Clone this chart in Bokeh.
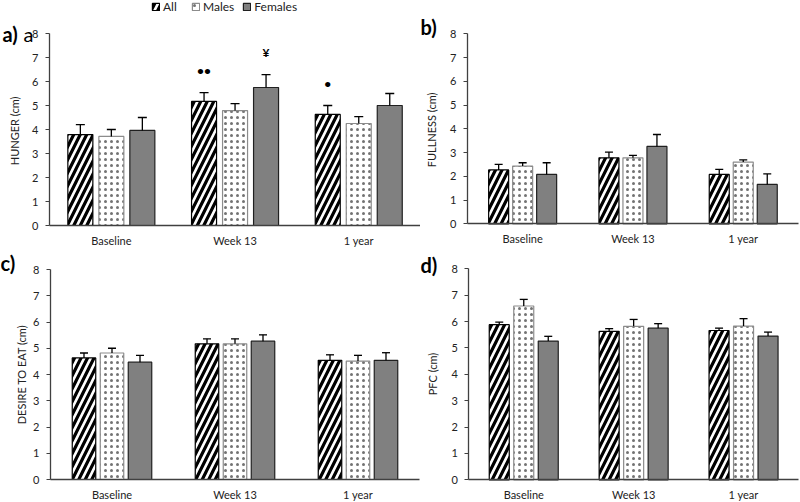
import numpy as np
from bokeh.plotting import figure
from bokeh.models import (ColumnDataSource, Range1d, Label, Legend, LegendItem,
                          FixedTicker)
from bokeh.layouts import column, row
from bokeh.core.properties import value
from bokeh.embed import file_html
from bokeh.resources import INLINE

timepoints = ["Baseline", "Week 13", "1 year"]
groups = ["All", "Males", "Females"]
y_ticks = [0, 1, 2, 3, 4, 5, 6, 7, 8]

# a) HUNGER (means and SEM)
hunger_all = [3.79, 5.17, 4.63]
hunger_males = [3.71, 4.79, 4.25]
hunger_females = [3.96, 5.75, 5.00]
hunger_all_sem = [0.41, 0.37, 0.37]
hunger_males_sem = [0.29, 0.29, 0.29]
hunger_females_sem = [0.54, 0.54, 0.50]
hunger_all_marks = ["", "\u2022\u2022", "\u2022"]
hunger_males_marks = ["", "", ""]
hunger_females_marks = ["", "\u00a5", ""]

# b) FULLNESS
fullness_all = [2.27, 2.78, 2.08]
fullness_males = [2.43, 2.78, 2.60]
fullness_females = [2.08, 3.26, 1.66]
fullness_all_sem = [0.23, 0.24, 0.21]
fullness_males_sem = [0.14, 0.10, 0.09]
fullness_females_sem = [0.49, 0.50, 0.44]

# c) DESIRE TO EAT
desire_all = [4.63, 5.17, 4.54]
desire_males = [4.82, 5.17, 4.51]
desire_females = [4.47, 5.27, 4.54]
desire_all_sem = [0.19, 0.19, 0.21]
desire_males_sem = [0.18, 0.19, 0.22]
desire_females_sem = [0.26, 0.24, 0.29]

# d) PFC
pfc_all = [5.88, 5.63, 5.66]
pfc_males = [6.59, 5.82, 5.83]
pfc_females = [5.26, 5.75, 5.45]
pfc_all_sem = [0.10, 0.10, 0.09]
pfc_males_sem = [0.25, 0.26, 0.28]
pfc_females_sem = [0.18, 0.17, 0.15]

no_marks = ["", "", ""]

FONT = "Lato"
AX = "#404040"
TXT = "#222222"

STYLES = [
    dict(fill_color="white", hatch_pattern="right_diagonal_line", hatch_color="black",
         hatch_weight=3.2, hatch_scale=13, line_color="black"),
    dict(fill_color="white", hatch_pattern="dot", hatch_color="black",
         hatch_alpha=0.55, hatch_scale=6, line_color="#8c8c8c"),
    dict(fill_color="#808080", line_color="#202020"),
]


def make_panel(letter, ylabel, series, sems, marks, cw, ch, axis_x, cat_px, y0_px, y8_px,
               bar_px, pitch_px, cap_px, letter_pos, label_standoff,
               extra=None, legend=None):
    unit_px = (y0_px - y8_px) / 8.0
    to_x = lambda px: (px - axis_x) / cat_px
    to_y = lambda py: 8 + (y8_px - py) / unit_px
    p = figure(width=cw, height=ch, title=None,
               x_range=Range1d(to_x(0), to_x(cw)), y_range=Range1d(to_y(ch), to_y(0)),
               output_backend="svg", toolbar_location=None, min_border=0)
    p.outline_line_color = None
    p.xgrid.visible = False
    p.ygrid.visible = False

    centers = np.arange(len(timepoints)) + 0.5
    renderers = []
    for i in range(3):
        off = (i - 1) * pitch_px / cat_px
        xs = centers + off
        vals = np.array(series[i])
        tops = vals + np.array(sems[i])
        half_cap = cap_px / cat_px / 2
        src = ColumnDataSource(dict(x=xs, xl=xs - half_cap, xr=xs + half_cap,
                                    val=vals, top=tops, mark=marks[i]))
        r = p.vbar(x="x", top="val", width=bar_px / cat_px, source=src,
                   line_width=1.2, **STYLES[i])
        p.segment(x0="x", y0="val", x1="x", y1="top", source=src,
                  line_color="black", line_width=1.3)
        p.segment(x0="xl", y0="top", x1="xr", y1="top", source=src,
                  line_color="black", line_width=1.3)
        p.text(x="x", y="top", text="mark", source=src, text_align="center",
               text_baseline="middle", y_offset=-22, text_font=value(FONT),
               text_font_size="12px", text_font_style="bold", text_color="black")
        renderers.append(r)

    # axes placed at the data origin
    p.xaxis.fixed_location = 0
    p.yaxis.fixed_location = 0
    p.xaxis.bounds = (0, 3)
    p.yaxis.bounds = (0, 8)
    p.xaxis.ticker = FixedTicker(ticks=list(centers))
    p.xaxis.major_label_overrides = {float(c): t for c, t in zip(centers, timepoints)}
    p.yaxis.ticker = FixedTicker(ticks=y_ticks)
    p.yaxis.axis_label = ylabel
    for ax in (p.xaxis[0], p.yaxis[0]):
        ax.axis_line_color = AX
        ax.axis_line_width = 1.3
        ax.major_label_text_font = FONT
        ax.major_label_text_font_size = "11px"
        ax.major_label_text_color = TXT
        ax.minor_tick_line_color = None
    p.yaxis.major_tick_line_color = AX
    p.yaxis.major_tick_in = 0
    p.yaxis.major_tick_out = 4
    p.yaxis.major_label_standoff = 7
    p.yaxis.axis_label_text_font = FONT
    p.yaxis.axis_label_text_font_size = "11px"
    p.yaxis.axis_label_text_font_style = "normal"
    p.yaxis.axis_label_text_color = TXT
    p.yaxis.axis_label_standoff = label_standoff
    p.xaxis.major_tick_line_color = None
    p.xaxis.major_tick_out = 0
    p.xaxis.major_tick_in = 0
    p.xaxis.major_label_standoff = 8

    lx, ly = letter_pos
    p.add_layout(Label(x=to_x(lx), y=to_y(ly), text=letter, text_font=FONT,
                       text_font_size="20px", text_font_style="bold",
                       text_baseline="middle", text_align="left", text_color="black"))
    if extra is not None:
        ex, ey, et = extra
        p.add_layout(Label(x=to_x(ex), y=to_y(ey), text=et, text_font=FONT,
                           text_font_size="20px", text_baseline="middle",
                           text_align="left", text_color="black"))

    if legend is not None:
        lgx, lg_top = legend
        items = [LegendItem(label=g, renderers=[r]) for g, r in zip(groups, renderers)]
        lg = Legend(items=items, orientation="horizontal",
                    location=(lgx, ch - lg_top - 14),
                    label_text_font=FONT, label_text_font_size="12px",
                    label_text_color=TXT, label_height=10,
                    glyph_width=9, glyph_height=9, spacing=8,
                    padding=0, margin=0, label_standoff=3, border_line_color=None,
                    background_fill_alpha=0)
        p.add_layout(lg, "center")
    return p


pa = make_panel("a)", "HUNGER  (cm)",
                [hunger_all, hunger_males, hunger_females],
                [hunger_all_sem, hunger_males_sem, hunger_females_sem],
                [hunger_all_marks, hunger_males_marks, hunger_females_marks],
                420, 251, 49, 123.7, 225, 33, 25, 31, 9, (2, 33.5), 8,
                extra=(23, 33, "a"), legend=(151, 0))
pb = make_panel("b)", "FULLNESS  (cm)",
                [fullness_all, fullness_males, fullness_females],
                [fullness_all_sem, fullness_males_sem, fullness_females_sem],
                [no_marks, no_marks, no_marks],
                380, 251, 47, 110.3, 223.3, 33.3, 20, 24, 8, (0, 26.5), 9)
pc = make_panel("c)", "DESIRE TO EAT (cm)",
                [desire_all, desire_males, desire_females],
                [desire_all_sem, desire_males_sem, desire_females_sem],
                [no_marks, no_marks, no_marks],
                420, 251, 50, 123, 228, 18, 23.5, 28, 8, (0, 11), 2)
pd = make_panel("d)", "PFC (cm)",
                [pfc_all, pfc_males, pfc_females],
                [pfc_all_sem, pfc_males_sem, pfc_females_sem],
                [no_marks, no_marks, no_marks],
                380, 251, 48.3, 109.9, 228.3, 17.3, 20, 24.5, 8, (0, 13), 9)

layout = column(row(pa, pb), row(pc, pd))

open("out.html", "w").write(file_html(layout, INLINE))
